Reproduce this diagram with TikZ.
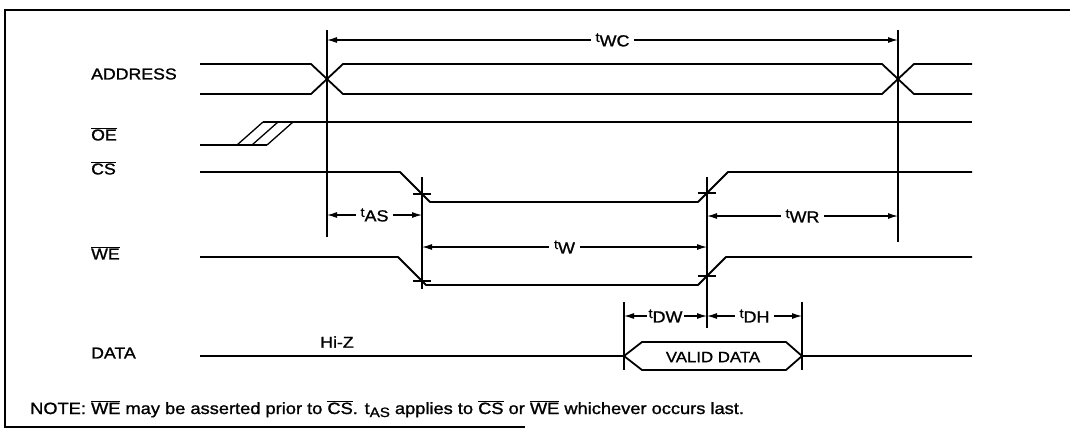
\documentclass[tikz,border=0pt]{standalone}
\usepackage{fontspec}
\setmainfont[FakeStretch=1.12,FakeBold=1.2]{Liberation Sans}
\usetikzlibrary{arrows.meta}
\newcommand{\ob}[1]{$\overline{\mbox{#1}}$}
\newcommand{\tlab}[1]{{\fontsize{13}{13}\selectfont\raisebox{2pt}{t}}{\fontsize{16}{16}\selectfont\raisebox{-2.5pt}{#1}}}
\newcommand{\tnote}[1]{t{\fontsize{13.5}{13.5}\selectfont\raisebox{-3pt}{#1}}}
\begin{document}
\begin{tikzpicture}[x=1pt,y=-1pt,
  sig/.style={line width=1.8pt, line join=round},
  hatch/.style={line width=1.3pt},
  guide/.style={line width=1.4pt},
  tickmark/.style={line width=1.3pt},
  dim/.style={line width=1.1pt, {Latex[length=10pt,width=6pt]}-{Latex[length=10pt,width=6pt]}},
  lbl/.style={font=\fontsize{15.8}{15.8}\selectfont, anchor=west, inner sep=0pt},
  dimlbl/.style={fill=white, inner xsep=5pt, inner ysep=1pt, font=\fontsize{16}{16}\selectfont},
  txt/.style={font=\fontsize{15.8}{15.8}\selectfont, inner sep=0pt}]
\useasboundingbox (0,0) rectangle (1070,432);

% frame
\coordinate (fTR) at (1070,10);
\coordinate (fTL) at (5,10);
\coordinate (fBL) at (5,427);
\coordinate (fBR) at (525,427);
\draw[line width=1.4pt] (fTR) -- (fTL) -- (fBL) -- (fBR);

% signal names
\node[lbl] (lA) at (91,74) {ADDRESS};
\node[lbl] (lO) at (91,134) {\ob{OE}};
\node[lbl] (lC) at (91,168) {\ob{CS}};
\node[lbl] (lW) at (91,253) {\ob{WE}};
\node[lbl] (lD) at (91,353) {DATA};

% ADDRESS
\draw[sig] (200,64) -- (311,64) -- (343,94) -- (882,94) -- (914,64) -- (972,64);
\draw[sig] (200,94) -- (311,94) -- (343,64) -- (882,64) -- (914,94) -- (972,94);

% OE
\draw[sig] (200,145) -- (267,145);
\draw[sig] (263,122) -- (972,122);
\draw[hatch] (237,145) -- (263,122);
\draw[hatch] (252,145) -- (278,122);
\draw[hatch] (267,145) -- (293,122);

% CS
\draw[sig] (200,172) -- (400,172) -- (430,202) -- (698,202) -- (728,172) -- (972,172);
\draw[tickmark] (413,194) -- (431,194);
\draw[tickmark] (698,193) -- (716,193);

% WE
\draw[sig] (200,257) -- (398,257) -- (426,285) -- (698,285) -- (726,257) -- (972,257);
\draw[tickmark] (413,281) -- (431,281);
\draw[tickmark] (698,276) -- (716,276);

% DATA
\draw[sig] (200,356) -- (624,356);
\draw[sig] (624,356) -- (642,342) -- (786,342) -- (802,356) -- (786,370) -- (642,370) -- cycle;
\draw[sig] (802,356) -- (972,356);
\node[txt, font=\fontsize{15}{15}\selectfont] (vd) at (713,357) {VALID DATA};
\node[txt] (hz) at (337,342) {Hi-Z};

% guide lines
\coordinate (A1) at (327,30);  \coordinate (A2) at (327,237);
\coordinate (B1) at (898,30);  \coordinate (B2) at (898,242);
\coordinate (C1) at (422,177); \coordinate (C2) at (422,289);
\coordinate (D1) at (707,177); \coordinate (D2) at (707,328);
\coordinate (E1) at (624,302); \coordinate (E2) at (624,370);
\coordinate (F1) at (802,302); \coordinate (F2) at (802,370);
\foreach \g in {A,B,C,D,E,F} \draw[guide] (\g1) -- (\g2);

% dimensions
\draw[dim] (A1|-0,40) -- (B1|-0,40) node[midway, dimlbl] {\tlab{WC}};
\draw[dim] (A1|-0,215) -- (C1|-0,215) node[midway, dimlbl] {\tlab{AS}};
\draw[dim] (D1|-0,216) -- (B1|-0,216) node[midway, dimlbl] {\tlab{WR}};
\draw[dim] (C1|-0,247) -- (D1|-0,247) node[midway, dimlbl] {\tlab{W}};
\draw[dim] (E1|-0,316) -- (D1|-0,316) node[midway, dimlbl, inner xsep=2pt] {\tlab{DW}};
\draw[dim] (D1|-0,316) -- (F1|-0,316) node[midway, dimlbl] {\tlab{DH}};

% note
\node[txt, anchor=west, font=\fontsize{16.3}{16.3}\selectfont] (note) at (30,409) {NOTE: \ob{WE} may be asserted prior to \ob{CS}. \tnote{AS} applies to \ob{CS} or \ob{WE} whichever occurs last.};
\end{tikzpicture}
\end{document}
